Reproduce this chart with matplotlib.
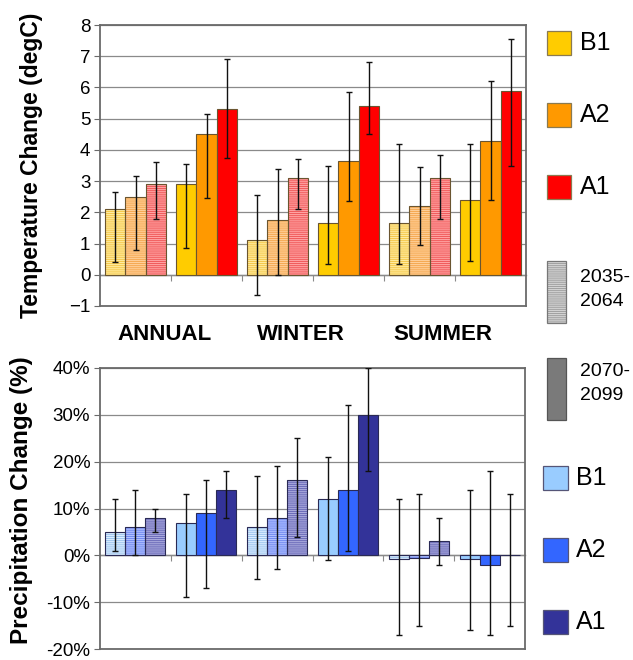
import numpy as np
import matplotlib
matplotlib.use("Agg")
import matplotlib.pyplot as plt
from matplotlib.patches import Rectangle
from matplotlib.ticker import FuncFormatter

plt.rcParams['font.family'] = ['Liberation Sans', 'DejaVu Sans']
plt.rcParams['hatch.linewidth'] = 0.7

# ---------------- data ----------------
categories = ['ANNUAL', 'ANNUAL', 'WINTER', 'WINTER', 'SUMMER', 'SUMMER']
periods = ['2035-2064', '2070-2099', '2035-2064', '2070-2099', '2035-2064', '2070-2099']
season_labels = ['ANNUAL', 'WINTER', 'SUMMER']
scenarios = ['B1', 'A2', 'A1']

temp_B1 = [2.1, 2.9, 1.1, 1.65, 1.65, 2.4]
temp_B1_lo = [0.4, 0.85, -0.65, 0.35, 0.35, 0.45]
temp_B1_hi = [2.65, 3.55, 2.55, 3.5, 4.2, 4.2]
temp_A2 = [2.5, 4.5, 1.75, 3.65, 2.2, 4.3]
temp_A2_lo = [0.8, 2.45, 0.0, 2.35, 0.95, 2.4]
temp_A2_hi = [3.15, 5.15, 3.4, 5.85, 3.45, 6.2]
temp_A1 = [2.9, 5.3, 3.1, 5.4, 3.1, 5.9]
temp_A1_lo = [1.8, 3.75, 2.1, 4.5, 1.8, 3.5]
temp_A1_hi = [3.6, 6.9, 3.7, 6.8, 3.85, 7.55]

prec_B1 = [5, 7, 6, 12, -0.7, -0.7]
prec_B1_lo = [1, -9, -5, -1, -17, -16]
prec_B1_hi = [12, 13, 17, 21, 12, 14]
prec_A2 = [6, 9, 8, 14, -0.6, -2]
prec_A2_lo = [0, -7, -3, 1, -15, -17]
prec_A2_hi = [14, 16, 19, 32, 13, 18]
prec_A1 = [8, 14, 16, 30, 3, 0]
prec_A1_lo = [5, 8, 4, 18, -2, -15]
prec_A1_hi = [10, 18, 25, 40, 8, 13]

temp_ticks = [-1, 0, 1, 2, 3, 4, 5, 6, 7, 8]
prec_ticks = [-20, -10, 0, 10, 20, 30, 40]

# ---------------- styles ----------------
temp_solid = ['#FFCC00', '#FF9900', '#FF0000']
temp_light = ['#FFEBA0', '#FFD09A', '#FFA3A3']
temp_hatch = ['#F5C84A', '#F5A850', '#F05A5A']
temp_edge = '#6a5530'
prec_solid = ['#99CCFF', '#3366FF', '#333399']
prec_light = ['#DDEEFF', '#B3C2FF', '#AAAADD']
prec_hatch = ['#9CC4EE', '#6F88F0', '#6A6AB8']
prec_edge = '#2a2a55'

W, H = 633, 660
fig = plt.figure(figsize=(W / 100, H / 100), dpi=100)

def fx(px):
    return px / W

def fy(py):
    return 1 - py / H

ax1 = fig.add_axes([fx(100), fy(306), fx(526) - fx(100), fy(25) - fy(306)])
ax2 = fig.add_axes([fx(100), fy(649), fx(525) - fx(100), fy(368) - fy(649)])

x = np.arange(len(categories))
bw = 0.282
hatched = [p == '2035-2064' for p in periods]


def draw_panel(ax, vals, los, his, solid, light, hcol, edge, ticks, ylim):
    for k in range(3):
        v = np.array(vals[k], dtype=float)
        lo = np.array(los[k], dtype=float)
        hi = np.array(his[k], dtype=float)
        xs = x + (k - 1) * bw
        for i in range(len(x)):
            if hatched[i]:
                ax.bar(xs[i], v[i], bw, color=light[k], edgecolor=hcol[k],
                       hatch='--------', linewidth=0, zorder=2)
                ax.bar(xs[i], v[i], bw, fill=False, edgecolor=edge,
                       linewidth=0.8, zorder=3)
            else:
                ax.bar(xs[i], v[i], bw, color=solid[k], edgecolor=edge,
                       linewidth=0.8, zorder=3)
        ax.errorbar(xs, v, yerr=[v - lo, hi - v], fmt='none', ecolor='#111111',
                    elinewidth=1.0, capsize=2.4, capthick=1.0, zorder=4)
    ax.set_xlim(-0.5, len(x) - 0.5)
    ax.set_ylim(*ylim)
    ax.set_yticks(ticks)
    ax.grid(axis='y', color='#8a8a8a', linewidth=0.9, zorder=0)
    ax.set_axisbelow(True)
    ax.set_xticks([])
    for s in ax.spines.values():
        s.set_color('#6a6a6a')
        s.set_linewidth(1.3)
    ax.tick_params(axis='y', length=4, color='#6a6a6a', labelsize=13.5, pad=3)
    sec = ax.secondary_xaxis(0, transform=ax.transData)
    sec.set_xticks(x[:-1] + 0.5)
    sec.set_xticklabels([])
    sec.tick_params(axis='x', length=4, color='#8a8a8a', direction='out')
    sec.spines['bottom'].set_color('#8a8a8a')
    sec.spines['bottom'].set_linewidth(1.0)
    return ax


draw_panel(ax1, [temp_B1, temp_A2, temp_A1], [temp_B1_lo, temp_A2_lo, temp_A1_lo],
           [temp_B1_hi, temp_A2_hi, temp_A1_hi], temp_solid, temp_light, temp_hatch,
           temp_edge, temp_ticks, (-1, 8))
draw_panel(ax2, [prec_B1, prec_A2, prec_A1], [prec_B1_lo, prec_A2_lo, prec_A1_lo],
           [prec_B1_hi, prec_A2_hi, prec_A1_hi], prec_solid, prec_light, prec_hatch,
           prec_edge, prec_ticks, (-20, 40))
ax2.yaxis.set_major_formatter(FuncFormatter(lambda v, p: f'{v:.0f}%'))

# y labels
fig.text(fx(32), fy(165), 'Temperature Change (degC)', rotation=90, ha='center',
         va='center', fontsize=16.5, fontweight='bold')
fig.text(fx(22), fy(500), 'Precipitation Change (%)', rotation=90, ha='center',
         va='center', fontsize=17.5, fontweight='bold')

# season labels between the two panels
for lab, px in zip(season_labels, [165, 301, 443]):
    fig.text(fx(px), fy(334), lab, ha='center', va='center', fontsize=16,
             fontweight='bold')

# ---------------- legend (manual) ----------------
def leg_box(x0, y0, x1, y1, fc, ec, hatch=None, hc=None):
    if hatch:
        fig.patches.append(Rectangle((fx(x0), fy(y1)), fx(x1) - fx(x0), fy(y0) - fy(y1),
                                     transform=fig.transFigure, facecolor=fc,
                                     edgecolor=hc, hatch=hatch, linewidth=0))
        fig.patches.append(Rectangle((fx(x0), fy(y1)), fx(x1) - fx(x0), fy(y0) - fy(y1),
                                     transform=fig.transFigure, fill=False,
                                     edgecolor=ec, linewidth=0.9))
    else:
        fig.patches.append(Rectangle((fx(x0), fy(y1)), fx(x1) - fx(x0), fy(y0) - fy(y1),
                                     transform=fig.transFigure, facecolor=fc,
                                     edgecolor=ec, linewidth=0.9))

for k, yc in enumerate([43, 115, 187]):
    leg_box(547, yc - 12, 571, yc + 12, temp_solid[k], '#8a7a50')
    fig.text(fx(580), fy(yc), scenarios[k], ha='left', va='center', fontsize=18)

leg_box(547, 261, 566, 323, '#d4d4d4', '#777777', hatch='--------', hc='#a0a0a0')
fig.text(fx(580), fy(278), '2035-', ha='left', va='center', fontsize=14)
fig.text(fx(580), fy(302), '2064', ha='left', va='center', fontsize=14)

leg_box(547, 358, 566, 420, '#7a7a7a', '#555555')
fig.text(fx(580), fy(372), '2070-', ha='left', va='center', fontsize=14)
fig.text(fx(580), fy(395), '2099', ha='left', va='center', fontsize=14)

for k, yc in enumerate([478, 550, 622]):
    leg_box(543, yc - 12, 568, yc + 12, prec_solid[k], '#555577')
    fig.text(fx(576), fy(yc), scenarios[k], ha='left', va='center', fontsize=18)

fig.savefig('out.png', dpi=100)
